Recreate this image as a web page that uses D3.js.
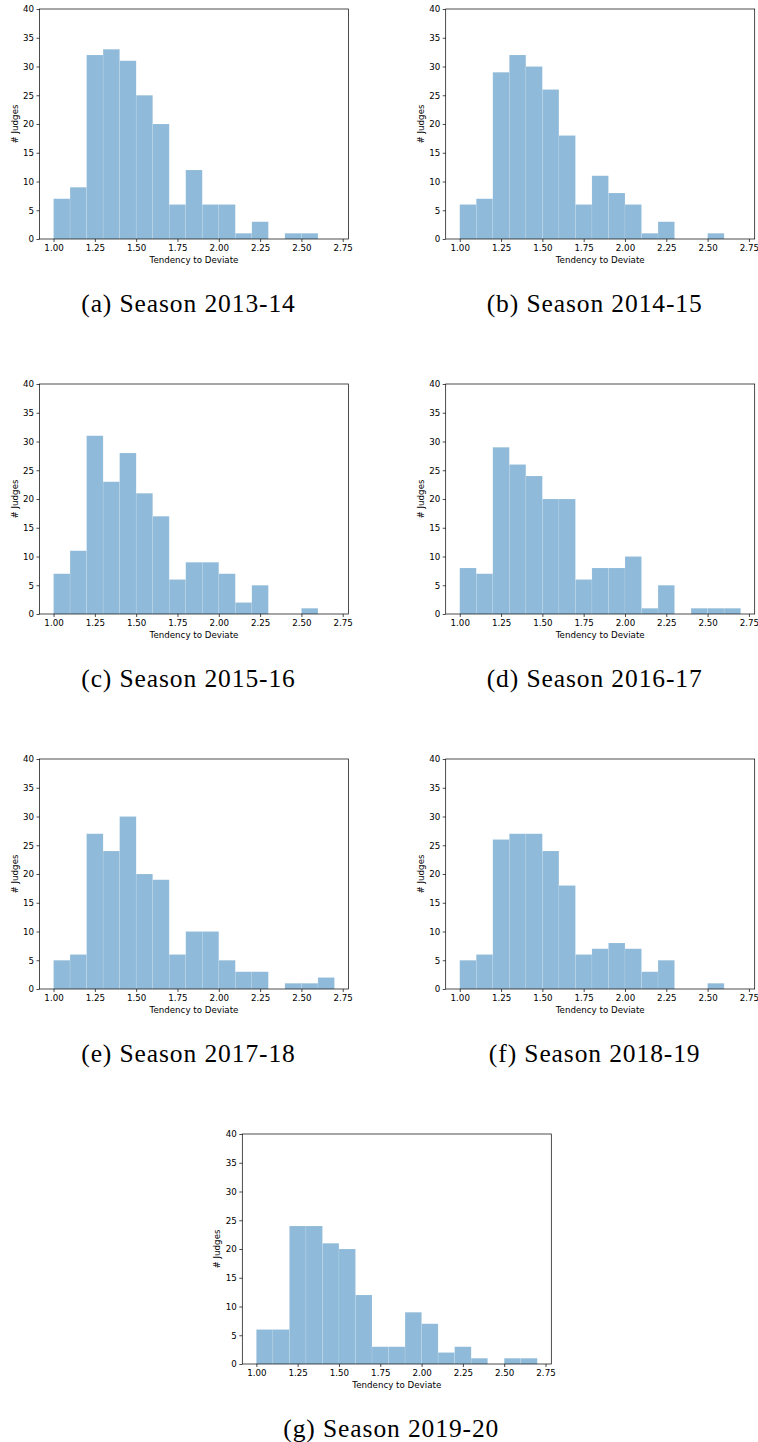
<!DOCTYPE html>
<html>
<head>
<meta charset="utf-8">
<script src="https://cdn.jsdelivr.net/npm/d3@7"></script>
<style>
  body { margin: 0; background: #fff; }
  svg { display: block; }
  .tick text { font-family: "DejaVu Sans", sans-serif; font-size: 8.7px; fill: #000; }
  .tick line { stroke: #000; stroke-width: 0.7; }
</style>
</head>
<body>
<svg id="svg"></svg>
<script>
// histogram bin edges (width 0.1)
const binEdges = [1.0, 1.1, 1.2, 1.3, 1.4, 1.5, 1.6, 1.7, 1.8, 1.9, 2.0, 2.1, 2.2, 2.3, 2.4, 2.5, 2.6, 2.7];

// counts per bin for each season
const season1314 = [7, 9, 32, 33, 31, 25, 20, 6, 12, 6, 6, 1, 3, 0, 1, 1, 0];
const season1415 = [6, 7, 29, 32, 30, 26, 18, 6, 11, 8, 6, 1, 3, 0, 0, 1, 0];
const season1516 = [7, 11, 31, 23, 28, 21, 17, 6, 9, 9, 7, 2, 5, 0, 0, 1, 0];
const season1617 = [8, 7, 29, 26, 24, 20, 20, 6, 8, 8, 10, 1, 5, 0, 1, 1, 1];
const season1718 = [5, 6, 27, 24, 30, 20, 19, 6, 10, 10, 5, 3, 3, 0, 1, 1, 2];
const season1819 = [5, 6, 26, 27, 27, 24, 18, 6, 7, 8, 7, 3, 5, 0, 0, 1, 0];
const season1920 = [6, 6, 24, 24, 21, 20, 12, 3, 3, 9, 7, 2, 3, 1, 0, 1, 1];

const captions = ["(a) Season 2013-14", "(b) Season 2014-15", "(c) Season 2015-16",
                  "(d) Season 2016-17", "(e) Season 2017-18", "(f) Season 2018-19",
                  "(g) Season 2019-20"];
const xTicks = [1.00, 1.25, 1.50, 1.75, 2.00, 2.25, 2.50, 2.75];
const yTicks = [0, 5, 10, 15, 20, 25, 30, 35, 40];

const w = 758;
const h = 1442;
const plotW = 309;
const plotH = 230;

// top-left corner of each axes box
const panels = [
    { data: season1314, left: 39.5, top: 9 },
    { data: season1415, left: 445.7, top: 9 },
    { data: season1516, left: 39.5, top: 384 },
    { data: season1617, left: 445.7, top: 384 },
    { data: season1718, left: 39.5, top: 759 },
    { data: season1819, left: 445.7, top: 759 },
    { data: season1920, left: 242.3, top: 1134 }
];

let svg = d3.select("#svg")
    .attr("width", w)
    .attr("height", h)
    .attr("viewBox", "0 0 " + w + " " + h);

const xScale = d3.scaleLinear()
    .domain([0.915, 2.785])
    .range([0, plotW]);
const yScale = d3.scaleLinear()
    .domain([0, 40])
    .range([plotH, 0]);

panels.forEach((p, idx) => {
    let g = svg.append("g")
        .attr("transform", "translate(" + p.left + "," + p.top + ")");

    let bars = p.data.map((v, i) => ({ x0: binEdges[i], x1: binEdges[i + 1], count: v }))
        .filter(d => d.count > 0);

    g.selectAll(".bar")
        .data(bars)
        .enter()
        .append("rect")
        .attr("class", "bar")
        .attr("x", d => xScale(d.x0))
        .attr("y", d => yScale(d.count))
        .attr("width", d => xScale(d.x1) - xScale(d.x0))
        .attr("height", d => plotH - yScale(d.count))
        .attr("fill", "#8fbad9")
        .attr("stroke", "#fff")
        .attr("stroke-opacity", 0.2)
        .attr("stroke-width", 0.6);

    // axes
    let xAxis = d3.axisBottom(xScale)
        .tickValues(xTicks)
        .tickFormat(d3.format(".2f"))
        .tickSize(3)
        .tickPadding(2.5);
    g.append("g")
        .attr("transform", "translate(0," + plotH + ")")
        .call(xAxis)
        .call(s => s.select(".domain").remove());

    let yAxis = d3.axisLeft(yScale)
        .tickValues(yTicks)
        .tickSize(3)
        .tickPadding(2.5);
    g.append("g")
        .call(yAxis)
        .call(s => s.select(".domain").remove());

    // frame
    g.append("rect")
        .attr("x", 0)
        .attr("y", 0)
        .attr("width", plotW)
        .attr("height", plotH)
        .attr("fill", "none")
        .attr("stroke", "#000")
        .attr("stroke-width", 0.7);

    // axis labels
    g.append("text")
        .attr("x", plotW / 2)
        .attr("y", plotH + 24)
        .attr("text-anchor", "middle")
        .style("font-family", "DejaVu Sans, sans-serif")
        .style("font-size", "8.7px")
        .text("Tendency to Deviate");

    g.append("text")
        .attr("transform", "translate(-22," + (plotH / 2) + ") rotate(-90)")
        .attr("text-anchor", "middle")
        .style("font-family", "DejaVu Sans, sans-serif")
        .style("font-size", "8.7px")
        .text("# Judges");

    // caption
    g.append("text")
        .attr("x", plotW / 2 - 5.5)
        .attr("y", plotH + 72.5)
        .attr("text-anchor", "middle")
        .style("font-family", "Liberation Serif, serif")
        .style("font-size", "25.5px")
        .style("letter-spacing", "0.9px")
        .text(captions[idx]);
});
</script>
</body>
</html>
